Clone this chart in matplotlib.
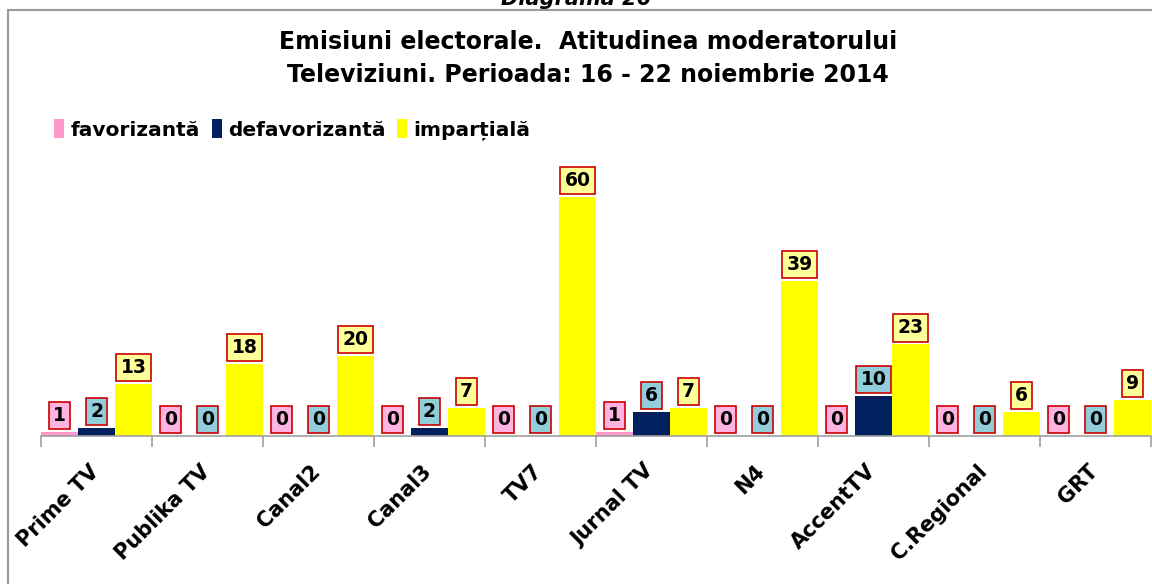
import matplotlib
matplotlib.use("Agg")
import matplotlib.pyplot as plt
import matplotlib.transforms as mtransforms
import numpy as np
from matplotlib.patches import Rectangle

channels = ["Prime TV", "Publika TV", "Canal2", "Canal3", "TV7",
            "Jurnal TV", "N4", "AccentTV", "C.Regional", "GRT"]
favorizanta = [1, 0, 0, 0, 0, 1, 0, 0, 0, 0]
defavorizanta = [2, 0, 0, 2, 0, 6, 0, 10, 0, 0]
impartiala = [13, 18, 20, 7, 60, 7, 39, 23, 6, 9]

series_names = ["favorizantă", "defavorizantă", "imparțială"]
bar_colors = ["#FF99CC", "#002060", "#FFFF00"]
box_colors = ["#FFB3E0", "#92CDDC", "#FFFF99"]

FONT = ["DejaVu Sans"]

fig = plt.figure(figsize=(11.52, 5.84), dpi=100)
W, H = 1152, 584

# outer frame
fig.patches.append(Rectangle((8 / W, -0.01), 1.0, 1 - 10 / H + 0.01,
                             transform=fig.transFigure, fill=False,
                             edgecolor="#999999", linewidth=1.5))

fig.text(0.5, 1 + 1 / H, "Diagrama 26", ha="center", va="center",
         fontsize=15, fontweight="bold", fontstyle="italic", family=FONT)

fig.text(588 / W, 1 - 42 / H, "Emisiuni electorale.  Atitudinea moderatorului",
         ha="center", va="center", fontsize=17, fontweight="bold", family=FONT)
fig.text(588 / W, 1 - 75 / H, "Televiziuni. Perioada: 16 - 22 noiembrie 2014",
         ha="center", va="center", fontsize=17, fontweight="bold", family=FONT)

ax = fig.add_axes([41 / W, 1 - 436 / H, 1110 / W, 271 / H])

x = np.arange(len(channels))
w = 1 / 3
all_series = [favorizanta, defavorizanta, impartiala]
for k, (vals, name) in enumerate(zip(all_series, series_names)):
    pos = x + (k - 1) * w
    ax.bar(pos, vals, width=w, color=bar_colors[k], label=name, zorder=2)
    for px, v in zip(pos, vals):
        ax.annotate(str(v), (px, v), xytext=(0, 5), textcoords="offset points",
                    ha="center", va="bottom", fontsize=13.5, fontweight="bold",
                    family=FONT,
                    bbox=dict(boxstyle="square,pad=0.22", facecolor=box_colors[k],
                              edgecolor="#CC0000", linewidth=1.2))

ax.set_xlim(-0.5, len(channels) - 0.5)
ax.set_ylim(0, 68)
for s in ["top", "right", "left"]:
    ax.spines[s].set_visible(False)
ax.spines["bottom"].set_color("#A0A0A0")
ax.spines["bottom"].set_linewidth(1.2)
ax.set_yticks([])

ax.set_xticks(np.arange(len(channels) + 1) - 0.5)
ax.set_xticklabels([])
ax.tick_params(axis="x", which="major", length=8, color="#A0A0A0", width=1.2)
ax.set_xticks(x, minor=True)
ax.set_xticklabels(channels, minor=True, rotation=45, ha="right", va="top",
                   rotation_mode="anchor", fontsize=15, fontweight="bold",
                   family=FONT)
ax.tick_params(axis="x", which="minor", length=0, pad=18)
shift = mtransforms.ScaledTranslation(-8 / 100, 0, fig.dpi_scale_trans)
for lbl in ax.get_xticklabels(minor=True):
    lbl.set_transform(lbl.get_transform() + shift)

leg = fig.legend(loc="upper left", bbox_to_anchor=(36 / W, 1 - 101 / H),
                 ncol=3, frameon=False, handlelength=0.5, handleheight=1.1,
                 handletextpad=0.3, columnspacing=0.6,
                 prop=dict(family=FONT, weight="bold", size=14.5))

fig.savefig("out.png", dpi=100)
